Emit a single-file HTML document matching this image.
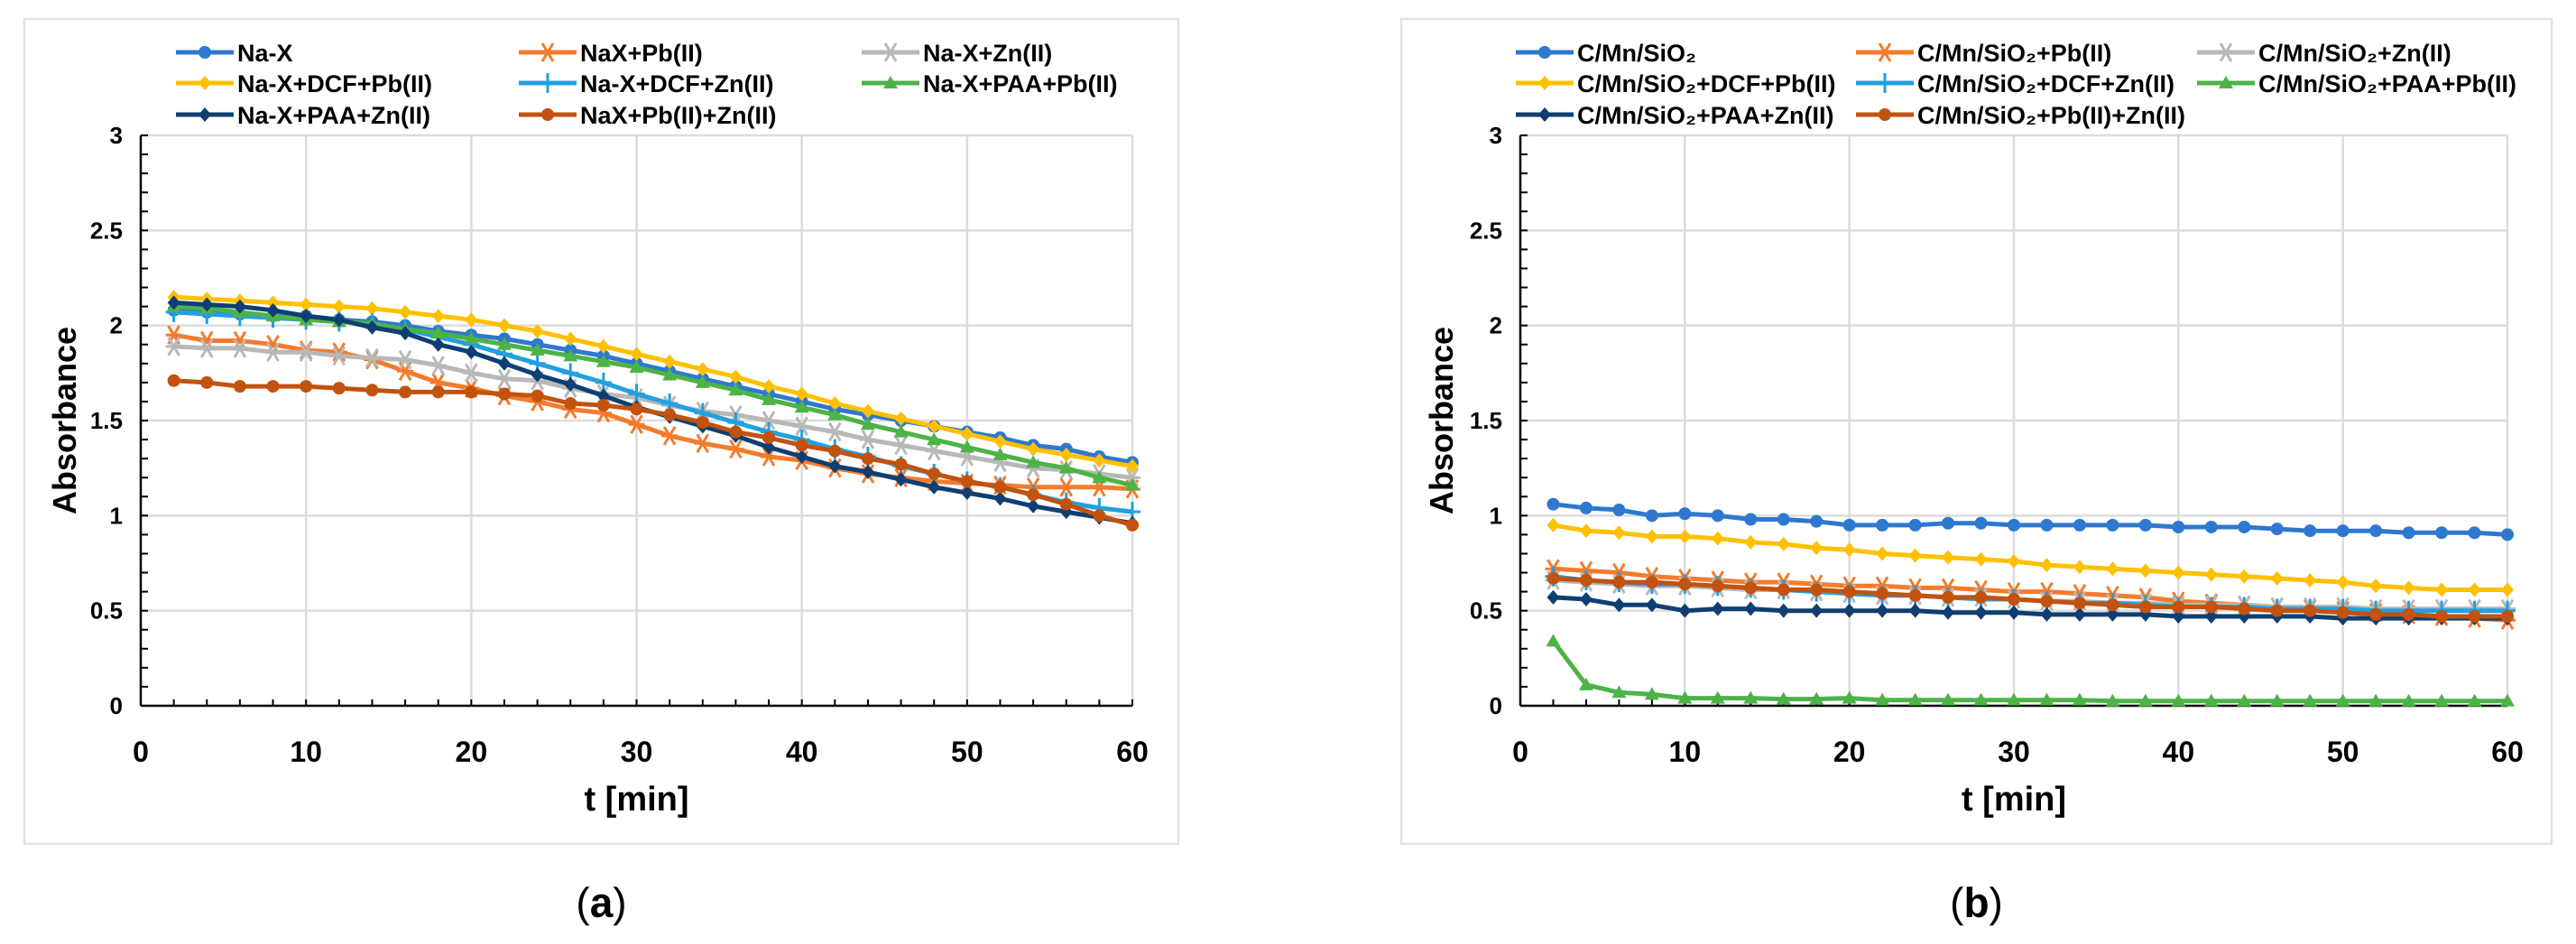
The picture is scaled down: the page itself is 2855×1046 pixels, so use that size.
<!DOCTYPE html>
<html><head><meta charset="utf-8"><style>
html,body{margin:0;padding:0;background:#fff;}
svg{display:block;}
text{font-family:"Liberation Sans",sans-serif;}
</style></head><body>
<svg id="fig" width="2855" height="1046" viewBox="0 0 2855 1046" xmlns="http://www.w3.org/2000/svg"></svg>
<script>
const times = [2,4,6,8,10,12,14,16,18,20,22,24,26,28,30,32,34,36,38,40,42,44,46,48,50,52,54,56,58,60];
const xTicks = [0,10,20,30,40,50,60];
const yTicks = [0,0.5,1,1.5,2,2.5,3];
const yTickLabels = ['0','0.5','1','1.5','2','2.5','3'];
// panel a
const aNaX     = [2.08,2.07,2.06,2.05,2.05,2.03,2.02,2.00,1.97,1.95,1.93,1.90,1.87,1.84,1.80,1.76,1.72,1.68,1.64,1.60,1.56,1.53,1.50,1.47,1.44,1.41,1.37,1.35,1.31,1.28];
const aPb      = [1.95,1.92,1.92,1.90,1.87,1.86,1.82,1.76,1.70,1.67,1.63,1.60,1.56,1.54,1.48,1.42,1.38,1.35,1.31,1.29,1.25,1.22,1.20,1.18,1.17,1.16,1.15,1.15,1.15,1.14];
const aZn      = [1.89,1.88,1.88,1.86,1.86,1.84,1.83,1.82,1.79,1.75,1.72,1.71,1.67,1.64,1.62,1.58,1.55,1.53,1.50,1.47,1.44,1.40,1.37,1.34,1.31,1.28,1.25,1.24,1.22,1.20];
const aDcfPb   = [2.15,2.14,2.13,2.12,2.11,2.10,2.09,2.07,2.05,2.03,2.00,1.97,1.93,1.89,1.85,1.81,1.77,1.73,1.68,1.64,1.59,1.55,1.51,1.47,1.43,1.39,1.35,1.32,1.29,1.26];
const aDcfZn   = [2.07,2.06,2.05,2.04,2.03,2.02,2.01,1.98,1.94,1.90,1.85,1.80,1.75,1.70,1.64,1.59,1.54,1.49,1.44,1.40,1.35,1.31,1.26,1.22,1.18,1.15,1.11,1.07,1.04,1.02];
const aPaaPb   = [2.10,2.09,2.07,2.05,2.03,2.02,2.01,1.98,1.96,1.93,1.90,1.87,1.84,1.81,1.78,1.74,1.70,1.66,1.61,1.57,1.53,1.48,1.44,1.40,1.36,1.32,1.28,1.25,1.20,1.16];
const aPaaZn   = [2.12,2.11,2.10,2.08,2.05,2.03,1.99,1.96,1.90,1.86,1.80,1.74,1.69,1.63,1.57,1.52,1.47,1.42,1.36,1.31,1.26,1.23,1.19,1.15,1.12,1.09,1.05,1.02,0.99,0.96];
const aPbZn    = [1.71,1.70,1.68,1.68,1.68,1.67,1.66,1.65,1.65,1.65,1.64,1.63,1.59,1.58,1.56,1.53,1.49,1.44,1.41,1.37,1.34,1.30,1.27,1.22,1.18,1.15,1.11,1.06,1.00,0.95];
// panel b
const bBase    = [1.06,1.04,1.03,1.00,1.01,1.00,0.98,0.98,0.97,0.95,0.95,0.95,0.96,0.96,0.95,0.95,0.95,0.95,0.95,0.94,0.94,0.94,0.93,0.92,0.92,0.92,0.91,0.91,0.91,0.90];
const bPb      = [0.72,0.71,0.70,0.68,0.67,0.66,0.65,0.65,0.64,0.63,0.63,0.62,0.62,0.61,0.60,0.60,0.59,0.58,0.57,0.55,0.54,0.53,0.52,0.51,0.50,0.49,0.48,0.47,0.46,0.45];
const bZn      = [0.66,0.65,0.64,0.63,0.63,0.62,0.61,0.61,0.60,0.59,0.58,0.58,0.57,0.57,0.56,0.55,0.55,0.54,0.54,0.53,0.53,0.53,0.52,0.52,0.52,0.51,0.51,0.51,0.51,0.51];
const bDcfPb   = [0.95,0.92,0.91,0.89,0.89,0.88,0.86,0.85,0.83,0.82,0.80,0.79,0.78,0.77,0.76,0.74,0.73,0.72,0.71,0.70,0.69,0.68,0.67,0.66,0.65,0.63,0.62,0.61,0.61,0.61];
const bDcfZn   = [0.68,0.66,0.65,0.64,0.64,0.63,0.62,0.61,0.60,0.59,0.58,0.58,0.57,0.56,0.56,0.55,0.54,0.54,0.53,0.52,0.52,0.52,0.51,0.51,0.51,0.50,0.50,0.50,0.50,0.50];
const bPaaPb   = [0.34,0.11,0.07,0.06,0.04,0.04,0.04,0.035,0.035,0.04,0.03,0.03,0.03,0.03,0.03,0.03,0.03,0.025,0.025,0.025,0.025,0.025,0.025,0.025,0.025,0.025,0.025,0.025,0.025,0.025];
const bPaaZn   = [0.57,0.56,0.53,0.53,0.50,0.51,0.51,0.50,0.50,0.50,0.50,0.50,0.49,0.49,0.49,0.48,0.48,0.48,0.48,0.47,0.47,0.47,0.47,0.47,0.46,0.46,0.46,0.46,0.46,0.46];
const bPbZn    = [0.67,0.66,0.65,0.65,0.64,0.63,0.62,0.61,0.61,0.60,0.59,0.58,0.57,0.57,0.56,0.55,0.54,0.53,0.52,0.52,0.52,0.51,0.50,0.50,0.49,0.48,0.48,0.47,0.47,0.47];
const namesA = ['Na-X','NaX+Pb(II)','Na-X+Zn(II)','Na-X+DCF+Pb(II)','Na-X+DCF+Zn(II)','Na-X+PAA+Pb(II)','Na-X+PAA+Zn(II)','NaX+Pb(II)+Zn(II)'];
const namesB = ['C/Mn/SiO₂','C/Mn/SiO₂+Pb(II)','C/Mn/SiO₂+Zn(II)','C/Mn/SiO₂+DCF+Pb(II)','C/Mn/SiO₂+DCF+Zn(II)','C/Mn/SiO₂+PAA+Pb(II)','C/Mn/SiO₂+PAA+Zn(II)','C/Mn/SiO₂+Pb(II)+Zn(II)'];

const colors = ['#2E78CF','#F47B2C','#B8B8B8','#FFC000','#22A0E0','#4DB347','#0E3F73','#C2520E'];
const markers = ['circle','star','star','diamond','plus','triangle','diamond','circle'];
const NS='http://www.w3.org/2000/svg';
const svg=document.getElementById('fig');
function el(tag,attrs,parent){const e=document.createElementNS(NS,tag);for(const k in attrs)e.setAttribute(k,attrs[k]);(parent||svg).appendChild(e);return e;}

function marker(g,type,x,y,c){
  let m;
  if(type==='circle'){m=el('circle',{cx:x,cy:y,r:7,fill:c},g);}
  else if(type==='diamond'){m=el('path',{d:`M${x} ${y-8}L${x+7} ${y}L${x} ${y+8}L${x-7} ${y}Z`,fill:c},g);}
  else if(type==='triangle'){m=el('path',{d:`M${x} ${y-8}L${x+8} ${y+6}L${x-8} ${y+6}Z`,fill:c},g);}
  else if(type==='plus'){m=el('path',{d:`M${x-9} ${y}H${x+9}M${x} ${y-11}V${x>0?y+11:y}`,stroke:c,'stroke-width':3,fill:'none'},g);}
  else {m=el('path',{d:`M${x-9} ${y}H${x+9}M${x-6} ${y-10}L${x+6} ${y+10}M${x+6} ${y-10}L${x-6} ${y+10}`,stroke:c,'stroke-width':3,fill:'none'},g);}
  return m;
}

function panel(cfg){
  const {bx0,bx1,ax0,ax1,yTop,yBot,series,names,legX,label,absX,id}=cfg;
  const g=el('g',{});
  
  
  const frame=el('rect',{x:bx0,y:21,width:bx1-bx0,height:914,fill:'#fff',stroke:'#e3e3e3','stroke-width':2.5},g);
  
  
  const X=t=>ax0+(t/60)*(ax1-ax0);
  const Y=v=>yBot-(v/3)*(yBot-yTop);
  // grid
  yTicks.forEach((v,i)=>{
    if(v>0){const gl=el('line',{x1:ax0,x2:ax1,y1:Y(v),y2:Y(v),stroke:'#dcdcdc','stroke-width':2.5},g);
    }
    const tl=el('text',{x:ax0-20,y:Y(v)+9,'text-anchor':'end','font-size':26,'font-weight':'bold',fill:'#000'},g);
    tl.textContent=yTickLabels[i];
    
  });
  xTicks.forEach(t=>{
    if(t>0){const gl=el('line',{x1:X(t),x2:X(t),y1:yTop,y2:yBot,stroke:'#dcdcdc','stroke-width':2.5},g);
    }
    const tl=el('text',{x:X(t),y:yBot+62,'text-anchor':'middle','font-size':32,'font-weight':'bold',fill:'#000'},g);
    tl.textContent=String(t);
    
  });
  // axes
  const ya=el('line',{x1:ax0,x2:ax0,y1:yTop,y2:yBot,stroke:'#000','stroke-width':2.5},g);
  
  const xa=el('line',{x1:ax0,x2:ax1,y1:yBot,y2:yBot,stroke:'#000','stroke-width':2.5},g);
  
  for(let k=0;k<=30;k++){el('line',{x1:ax0,x2:ax0+8,y1:Y(k*0.1),y2:Y(k*0.1),stroke:'#000','stroke-width':2},g);}
  for(let t=2;t<=60;t+=2){el('line',{x1:X(t),x2:X(t),y1:yBot,y2:yBot-7,stroke:'#000','stroke-width':2},g);}
  // series
  series.forEach((vals,si)=>{
    const sg=el('g',{},g);
    
    
    const d=vals.map((v,i)=>(i?'L':'M')+X(times[i]).toFixed(1)+' '+Y(v).toFixed(1)).join('');
    const p=el('path',{d:d,fill:'none',stroke:colors[si],'stroke-width':5,'stroke-linejoin':'round'},sg);
    
    vals.forEach((v,i)=>{const m=marker(sg,markers[si],X(times[i]),Y(v),colors[si]);
      });
  });
  // legend
  const rows=[58,92,127];
  names.forEach((n,i)=>{
    const lx=legX[i%3], ly=rows[Math.floor(i/3)];
    const lg=el('g',{},g);
    
    
    el('line',{x1:lx,x2:lx+64,y1:ly,y2:ly,stroke:colors[i],'stroke-width':5},lg);
    marker(lg,markers[i],lx+32,ly,colors[i]);
    const t=el('text',{x:lx+68,y:ly+10,'font-size':27,'font-weight':'bold',fill:'#000'},lg);
    t.textContent=n;
  });
  // titles
  const yt=el('text',{x:absX,y:(yTop+yBot)/2,'text-anchor':'middle','font-size':36,'font-weight':'bold',fill:'#000',transform:`rotate(-90 ${absX} ${(yTop+yBot)/2})`},g);
  yt.textContent='Absorbance';
  
  const xt=el('text',{x:(ax0+ax1)/2,y:898,'text-anchor':'middle','font-size':38,'font-weight':'bold',fill:'#000'},g);
  xt.textContent='t [min]';
  
  const lb=el('text',{x:(bx0+bx1)/2,y:1016,'text-anchor':'middle','font-size':46,fill:'#000','font-family':'Liberation Serif, serif'},g);
  lb.innerHTML='(<tspan font-weight="bold">'+label+'</tspan>)';
  
}

panel({id:'panel-a',bx0:27,bx1:1306,ax0:156,ax1:1255,yTop:150,yBot:782,
  series:[aNaX,aPb,aZn,aDcfPb,aDcfZn,aPaaPb,aPaaZn,aPbZn],names:namesA,
  legX:[195,575,955],label:'a',absX:84});
panel({id:'panel-b',bx0:1553,bx1:2828,ax0:1685,ax1:2779,yTop:150,yBot:782,
  series:[bBase,bPb,bZn,bDcfPb,bDcfZn,bPaaPb,bPaaZn,bPbZn],names:namesB,
  legX:[1680,2057,2435],label:'b',absX:1610});
</script>
</body></html>
